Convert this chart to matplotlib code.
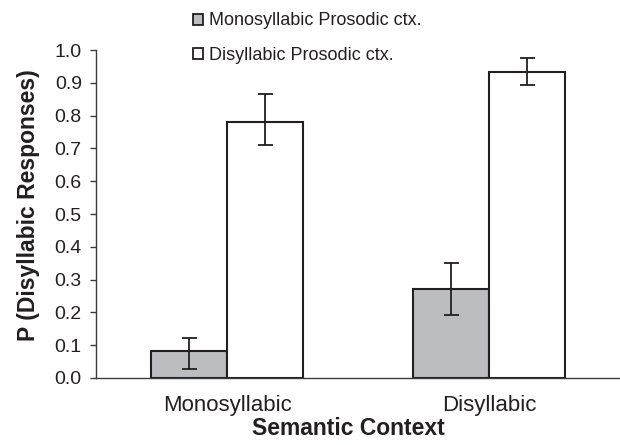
import numpy as np
import matplotlib
matplotlib.use("Agg")
import matplotlib.pyplot as plt
from matplotlib.patches import Patch

# valeurs
categories = ["Monosyllabic", "Disyllabic"]
series_names = ["Monosyllabic Prosodic ctx.", "Disyllabic Prosodic ctx."]
mono_vals = [0.082, 0.271]
mono_low = [0.027, 0.192]
mono_high = [0.122, 0.351]
di_vals = [0.781, 0.933]
di_low = [0.710, 0.893]
di_high = [0.865, 0.977]
yticks = [0.0, 0.1, 0.2, 0.3, 0.4, 0.5, 0.6, 0.7, 0.8, 0.9, 1.0]

plt.rcParams['font.family'] = ['Liberation Sans', 'DejaVu Sans']
ink = '#231f20'
gray = '#bcbdc0'

fig = plt.figure(figsize=(6.2, 4.45), dpi=100)
ax = fig.add_axes([0.155, 0.1506, 0.845, 0.737])

x = np.arange(len(categories))
w = 0.29

def yerr(vals, low, high):
    vals = np.array(vals)
    return [vals - np.array(low), np.array(high) - vals]

err_kw = dict(ecolor=ink, elinewidth=1.3, capsize=5.4, capthick=1.3)
ax.bar(x - w / 2, mono_vals, w, color=gray, edgecolor=ink, linewidth=1.5,
       yerr=yerr(mono_vals, mono_low, mono_high), error_kw=err_kw, zorder=2)
ax.bar(x + w / 2, di_vals, w, color='white', edgecolor=ink, linewidth=1.5,
       yerr=yerr(di_vals, di_low, di_high), error_kw=err_kw, zorder=2)

ax.set_xlim(-0.5, 1.5)
ax.set_ylim(0, 1.0)
ax.set_yticks(yticks)
ax.set_yticklabels([f"{v:.1f}" for v in yticks])
ax.set_xticks(x)
ax.set_xticklabels(categories)

for s in ['top', 'right']:
    ax.spines[s].set_visible(False)
for s in ['left', 'bottom']:
    ax.spines[s].set_color('#3c3c3c')
    ax.spines[s].set_linewidth(1.0)

ax.tick_params(axis='y', direction='out', length=4.3, width=1.0, color='#3c3c3c',
               labelsize=14, labelcolor=ink, pad=6)
ax.tick_params(axis='x', length=0, labelsize=16, labelcolor=ink, pad=12)

ax.set_xlabel("Semantic Context", fontsize=16.5, fontweight='bold', color=ink)
ax.set_ylabel("P (Disyllabic Responses)", fontsize=16.5, fontweight='bold', color=ink)
ax.xaxis.set_label_coords(0.481, -0.118)
ax.yaxis.set_label_coords(-0.107, 0.527)

handles = [Patch(facecolor=gray, edgecolor=ink, linewidth=1.3),
           Patch(facecolor='white', edgecolor=ink, linewidth=1.3)]
fig.legend(handles, series_names, loc='upper left', bbox_to_anchor=(193 / 620, 0.972),
           frameon=False, fontsize=13, handlelength=0.55, handleheight=0.55,
           handletextpad=0.35, labelspacing=0.95, borderpad=0, borderaxespad=0,
           labelcolor=ink)

fig.savefig("out.png", dpi=100)
